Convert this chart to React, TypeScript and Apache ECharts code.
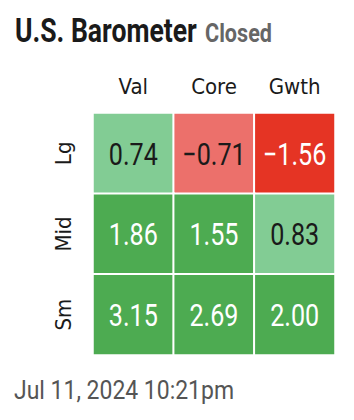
import React, { useEffect, useRef } from "react";
import * as echarts from "echarts";

const columns = ["Val", "Core", "Gwth"];
const rows = ["Lg", "Mid", "Sm"];
const lgValues = [0.74, -0.71, -1.56];
const midValues = [1.86, 1.55, 0.83];
const smValues = [3.15, 2.69, 2.0];
const title = "U.S. Barometer";
const status = "Closed";
const timestamp = "Jul 11, 2024 10:21pm";

const AXIS_FONT = "'DejaVu Sans Condensed', sans-serif";
const VALUE_FONT = "31px Roboto, sans-serif";

function textColorFor(v: number) {
  return v <= -1 || v >= 1 ? "#ffffff" : "#1a1a1a";
}

function fitScale(text: string, font: string, target: number) {
  const c = document.createElement("canvas").getContext("2d");
  if (!c) return 1;
  c.font = font;
  const w = c.measureText(text).width;
  return w > 0 ? target / w : 1;
}

export default function App() {
  const ref = useRef<HTMLDivElement>(null);
  useEffect(() => {
    if (!ref.current) return;
    const chart = echarts.init(ref.current, undefined, { renderer: "svg" });
    const all = [lgValues, midValues, smValues];
    const data: any[] = [];
    all.forEach((rowVals, ri) => {
      rowVals.forEach((v, ci) => {
        data.push([ci, ri, v]);
      });
    });
    const titleFont = "bold 34px Roboto, sans-serif";
    const statusFont = "bold 25px Roboto, sans-serif";
    const dateFont = "26px Roboto, sans-serif";
    const valueScale = fitScale("0.74", VALUE_FONT, 49);
    chart.setOption({
      animation: false,
      visualMap: {
        type: "piecewise",
        show: false,
        dimension: 2,
        seriesIndex: 0,
        pieces: [
          { lt: -1, color: "#E53424" },
          { gte: -1, lt: 0, color: "#EC706B" },
          { gte: 0, lt: 1, color: "#82CC94" },
          { gte: 1, color: "#4DAB51" },
        ],
      },
      graphic: [
        {
          type: "text",
          x: 15,
          y: 30.5,
          scaleX: fitScale(title, titleFont, 182),
          style: {
            text: title,
            font: titleFont,
            fill: "#1a1a1a",
            align: "left",
            verticalAlign: "middle",
          },
        },
        {
          type: "text",
          x: 205,
          y: 33,
          scaleX: fitScale(status, statusFont, 67),
          style: {
            text: status,
            font: statusFont,
            fill: "#666666",
            align: "left",
            verticalAlign: "middle",
          },
        },
        {
          type: "text",
          x: 14,
          y: 390,
          scaleX: fitScale(timestamp, dateFont, 220),
          style: {
            text: timestamp,
            font: dateFont,
            fill: "#555555",
            align: "left",
            verticalAlign: "middle",
          },
        },
      ],
      grid: { left: 93, top: 113, width: 242, height: 242 },
      xAxis: {
        type: "category",
        position: "top",
        data: columns,
        axisLine: { show: false },
        axisTick: { show: false },
        axisLabel: { fontFamily: AXIS_FONT, fontSize: 22, color: "#1a1a1a", margin: 16 },
        splitArea: { show: false },
      },
      yAxis: {
        type: "category",
        inverse: true,
        data: rows,
        axisLine: { show: false },
        axisTick: { show: false },
        axisLabel: { fontFamily: AXIS_FONT, fontSize: 22, color: "#1a1a1a", rotate: 90, margin: 19 },
      },
      series: [
        {
          type: "heatmap",
          data,
          itemStyle: { borderColor: "#ffffff", borderWidth: 2 },
          label: { show: false },
          emphasis: { disabled: true },
        },
        {
          type: "custom",
          data,
          silent: true,
          renderItem: (params: any, api: any) => {
            const v = api.value(2) as number;
            const pt = api.coord([api.value(0), api.value(1)]);
            return {
              type: "text",
              x: pt[0],
              y: pt[1] + 1,
              scaleX: valueScale,
              style: {
                text: v.toFixed(2).replace("-", "\u2212"),
                font: VALUE_FONT,
                fill: textColorFor(v),
                align: "center",
                verticalAlign: "middle",
              },
            };
          },
        },
      ],
    });
    return () => chart.dispose();
  }, []);
  return <div ref={ref} style={{ width: 354, height: 420, margin: -8 }} />;
}
